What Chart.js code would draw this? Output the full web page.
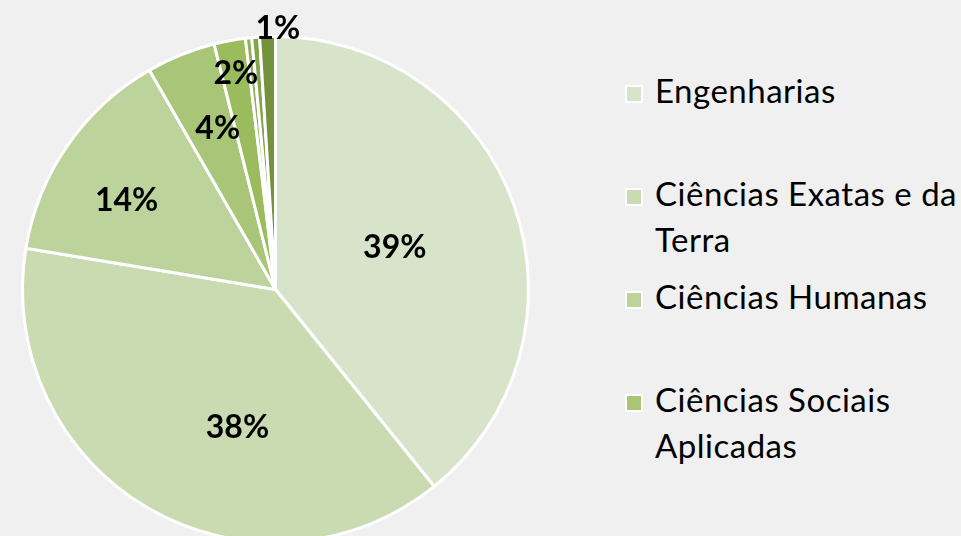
<!DOCTYPE html>
<html>
<head>
<meta charset="utf-8">
<script src="https://cdn.jsdelivr.net/npm/chart.js@4.4.1/dist/chart.umd.min.js"></script>
<style>
    html, body { margin: 0; padding: 0; width: 961px; height: 536px; overflow: hidden; background: #f0f0f0; }
    #wrap { position: absolute; left: 0; top: 0; width: 550px; height: 578px; }
    #legend { position: absolute; left: 625px; top: 67px; font-family: Lato, sans-serif; font-size: 33px; letter-spacing: 0.5px; line-height: 46px; color: #000; }
    .item { position: relative; height: 103px; }
    .box { position: absolute; left: 0; top: 18px; width: 14px; height: 14px; border: 2px solid #fff; }
    .txt { position: absolute; left: 30px; top: 0; width: 315px; }
</style>
</head>
<body>
<div id="wrap"><canvas id="chart"></canvas></div>
<div id="legend"></div>
<script>
const labels = ['Engenharias', 'Ciências Exatas e da Terra', 'Ciências Humanas', 'Ciências Sociais Aplicadas',
    'Ciências Biológicas', 'Ciências da Saúde', 'Linguística, Letras e Artes', 'Ciências Agrárias'];
const values = [39.2, 38.4, 14.1, 4.4, 2.0, 0.4, 0.5, 1.0];
const colors = ['#d8e4c9', '#cadab1', '#bdd39c', '#a9c577', '#9bbc5d', '#8fb056', '#84a44c', '#74913e'];
const legendCount = 4;   // only the first four fit in the legend box

// where each percentage sits: fraction of radius, and angle shift in degrees
const labelPlace = [[0.5, 0], [0.565, -14.8], [0.686, -3.8], [0.675, 2.2], [0.866, 0], [0, 0], [0, 0], [1.03, 2.3]];

const pctLabels = {
    id: 'pctLabels',
    afterDatasetsDraw(chart) {
        const ctx = chart.ctx;
        const meta = chart.getDatasetMeta(0);
        const total = values.reduce((a, b) => a + b, 0);
        ctx.save();
        ctx.font = 'bold 32px Lato, sans-serif';
        ctx.fillStyle = '#000';
        ctx.textAlign = 'center';
        ctx.textBaseline = 'middle';
        meta.data.forEach((arc, i) => {
            if (values[i] < 1) return;
            const p = arc.getProps(['x', 'y', 'startAngle', 'endAngle', 'outerRadius'], true);
            const mid = (p.startAngle + p.endAngle) / 2 + labelPlace[i][1] * Math.PI / 180;
            const r = p.outerRadius * labelPlace[i][0];
            const txt = Math.round(values[i] / total * 100) + '%';
            ctx.fillText(txt, p.x + Math.cos(mid) * r, p.y + Math.sin(mid) * r);
        });
        ctx.restore();
    }
};

new Chart(document.getElementById('chart').getContext('2d'), {
    type: 'pie',
    data: {
        labels: labels,
        datasets: [{
            data: values,
            backgroundColor: colors,
            borderColor: '#ffffff',
            borderWidth: 3,
            hoverOffset: 0
        }]
    },
    options: {
        responsive: true,
        maintainAspectRatio: false,
        animation: false,
        layout: { padding: { left: 21, right: 20, top: 35, bottom: 34 } },
        plugins: {
            legend: { display: false },
            tooltip: { enabled: false }
        }
    },
    plugins: [pctLabels]
});

const legend = document.getElementById('legend');
labels.slice(0, legendCount).forEach((name, i) => {
    const item = document.createElement('div');
    item.className = 'item';
    item.innerHTML = '<div class="box" style="background:' + colors[i] + '"></div><div class="txt">' + name + '</div>';
    legend.appendChild(item);
});
</script>
</body>
</html>
